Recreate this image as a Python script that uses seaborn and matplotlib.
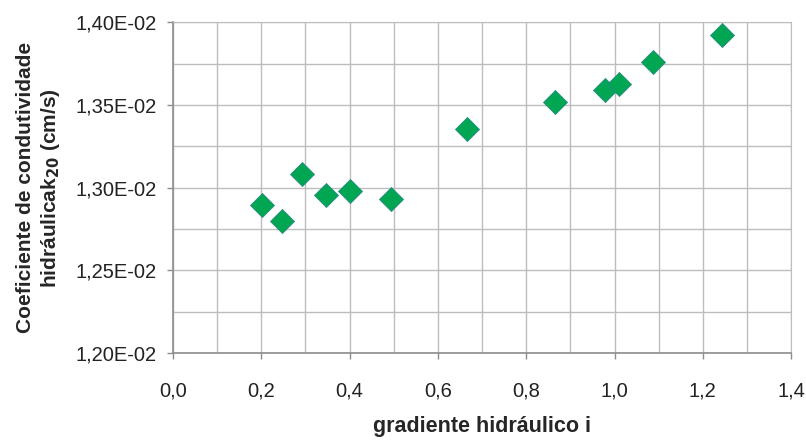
import matplotlib
matplotlib.use("Agg")

import numpy as np
import pandas as pd
import matplotlib.pyplot as plt
import seaborn as sns
from matplotlib.ticker import FuncFormatter, MultipleLocator

# values
gradiente = [0.202, 0.246, 0.292, 0.346, 0.400, 0.493, 0.666, 0.865, 0.979, 1.010, 1.088, 1.243]
k20 = [0.012897, 0.012796, 0.013083, 0.012954, 0.012978, 0.012932,
       0.013358, 0.013519, 0.013590, 0.013626, 0.013758, 0.013927]

x_ticks = [0.0, 0.2, 0.4, 0.6, 0.8, 1.0, 1.2, 1.4]
y_ticks = [0.0120, 0.0125, 0.0130, 0.0135, 0.0140]

sns.set_style("white")
plt.rcParams["font.family"] = ["Liberation Sans", "DejaVu Sans"]

df = pd.DataFrame({"i": gradiente, "k": k20})

fig = plt.figure(figsize=(8.06, 4.40), dpi=100)
ax = fig.add_axes([0.2146, 0.198, 0.767, 0.751])

sns.scatterplot(data=df, x="i", y="k", marker="D", s=150, color="#00A651",
                edgecolor="#2e8a8a", linewidth=0.6, ax=ax, zorder=3)

ax.set_xlim(0, 1.4)
ax.set_ylim(0.0120, 0.0140)
ax.set_xticks(x_ticks)
ax.set_yticks(y_ticks)
ax.xaxis.set_minor_locator(MultipleLocator(0.1))
ax.yaxis.set_minor_locator(MultipleLocator(0.00025))

ax.xaxis.set_major_formatter(FuncFormatter(lambda v, p: f"{v:.1f}".replace(".", ",")))
ax.yaxis.set_major_formatter(FuncFormatter(lambda v, p: f"{v * 100:.2f}E-02".replace(".", ",")))

ax.grid(True, which="both", color="#bdbdbd", lw=1.0)
ax.set_axisbelow(True)
for side in ["top", "right"]:
    ax.spines[side].set_color("#bdbdbd")
for side in ["left", "bottom"]:
    ax.spines[side].set_color("#8c8c8c")
    ax.spines[side].set_linewidth(1.2)

ax.tick_params(axis="both", which="major", direction="out", length=4.5, width=1,
               bottom=True, left=True, color="#8c8c8c", labelsize=14.5,
               labelcolor="#222222")
ax.tick_params(axis="x", which="major", pad=16)
ax.tick_params(axis="y", which="major", pad=7)
ax.tick_params(axis="both", which="minor", length=0)

ax.set_xlabel("gradiente hidráulico i", fontsize=15.5, fontweight="bold", labelpad=11)
ax.set_ylabel("Coeficiente de condutividade\nhidráulicak$_{\\mathbf{20}}$ (cm/s)",
              fontsize=15, fontweight="bold", labelpad=10, linespacing=1.2)

fig.savefig("out.png", dpi=100)
